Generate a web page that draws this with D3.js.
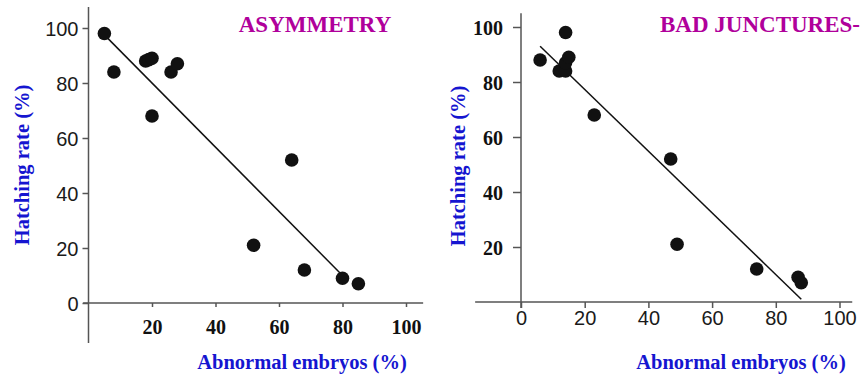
<!DOCTYPE html>
<meta charset="utf-8">
<style>
  body { margin: 0; background: #fff; }
  .axis-line { stroke: #555; stroke-width: 1.5px; }
  .tick line { stroke: #555; stroke-width: 1.5px; }
  .fit { stroke: #111; stroke-width: 1.5px; fill: none; }
  .dot { fill: #111; }
  .sans text { font-family: "Liberation Sans", Arial, sans-serif; font-size: 20px; fill: #1a1a1a; }
  .serif text { font-family: "Liberation Serif", "Times New Roman", serif; font-weight: bold; font-size: 20px; fill: #111; }
  .label { font-family: "Liberation Serif", "Times New Roman", serif; font-weight: bold; font-size: 20.5px; fill: #1515d0; }
  .title { font-family: "Liberation Serif", "Times New Roman", serif; font-weight: bold; font-size: 23px; fill: #b0009b; }
</style>
<body></body>
<script src="https://d3js.org/d3.v7.min.js"></script>
<script>
// asymmetry panel
var asymX = [5, 8, 18, 19, 20, 20, 26, 28, 52, 64, 68, 80, 85];
var asymY = [98, 84, 88, 88.5, 89, 68, 84, 87, 21, 52, 12, 9, 7];
var asymFitX = [5, 80];
var asymFitY = [97.5, 10];

// bad junctures panel
var badX = [6, 12, 14, 14, 14, 15, 23, 47, 49, 74, 87, 88];
var badY = [88, 84, 98, 84, 87, 89, 68, 52, 21, 12, 9, 7];
var badFitX = [6, 88];
var badFitY = [93, 1];

var ticks0 = [0, 20, 40, 60, 80, 100];
var ticks20 = [20, 40, 60, 80, 100];

var svg = d3.select("body").append("svg")
    .attr("width", 860)
    .attr("height", 374);

function panel(o) {
  var x = d3.scaleLinear().domain([0, 100]).range(o.xr);
  var y = d3.scaleLinear().domain([0, 100]).range(o.yr);
  var g = svg.append("g");

  // axis lines run a bit past the tick range
  g.append("line").attr("class", "axis-line")
    .attr("x1", x(o.xExt[0])).attr("x2", x(o.xExt[1]))
    .attr("y1", y(0)).attr("y2", y(0));
  g.append("line").attr("class", "axis-line")
    .attr("x1", x(0)).attr("x2", x(0))
    .attr("y1", y(o.yExt[0])).attr("y2", y(o.yExt[1]));

  var gx = g.append("g")
    .attr("class", o.xFont)
    .attr("transform", "translate(0," + y(0) + ")")
    .call(d3.axisBottom(x).tickValues(o.xTicks).tickSize(o.xTick).tickSizeOuter(0));
  gx.select(".domain").remove();
  gx.selectAll("text").attr("y", o.xLabelY).attr("dy", null).attr("font-size", null).attr("font-family", null).attr("fill", null);

  var gy = g.append("g")
    .attr("class", o.yFont)
    .attr("transform", "translate(" + x(0) + ",0)")
    .call(d3.axisLeft(y).tickValues(o.yTicks).tickSize(o.yTick).tickSizeOuter(0));
  gy.select(".domain").remove();
  gy.selectAll("text").attr("x", -o.yLabelX).attr("dy", "0.35em").attr("font-size", null).attr("font-family", null).attr("fill", null);

  var pts = o.xs.map(function(v, i) { return [v, o.ys[i]]; });
  var fit = o.fx.map(function(v, i) { return [v, o.fy[i]]; });

  g.append("path").attr("class", "fit")
    .attr("d", d3.line().x(function(d) { return x(d[0]); }).y(function(d) { return y(d[1]); })(fit));

  g.selectAll(".dot").data(pts).enter().append("circle")
    .attr("class", "dot")
    .attr("cx", function(d) { return x(d[0]); })
    .attr("cy", function(d) { return y(d[1]); })
    .attr("r", 6.8);

  g.append("text").attr("class", "label")
    .attr("text-anchor", "middle")
    .attr("x", o.xLab[0]).attr("y", o.xLab[1])
    .text("Abnormal embryos (%)");

  g.append("text").attr("class", "label")
    .attr("text-anchor", "middle")
    .attr("transform", "translate(" + o.yLab[0] + "," + o.yLab[1] + ") rotate(-90)")
    .text("Hatching rate (%)");

  g.append("text").attr("class", "title")
    .attr("text-anchor", o.titleAnchor)
    .attr("x", o.titlePos[0]).attr("y", o.titlePos[1])
    .text(o.title);
}

panel({
  xs: asymX, ys: asymY, fx: asymFitX, fy: asymFitY,
  xr: [88.5, 406], yr: [303, 28],
  xExt: [-1.7, 105.4], yExt: [-14.5, 107.6],
  xTicks: ticks20, yTicks: ticks0,
  xTick: 4, yTick: 6,
  xFont: "serif", yFont: "sans",
  xLabelY: 31, yLabelX: 10,
  xLab: [302, 369], yLab: [29, 165],
  title: "ASYMMETRY", titleAnchor: "middle", titlePos: [315, 32]
});

panel({
  xs: badX, ys: badY, fx: badFitX, fy: badFitY,
  xr: [521, 839.5], yr: [302, 27],
  xExt: [-14.4, 104], yExt: [-2.2, 105],
  xTicks: ticks0, yTicks: ticks20,
  xFont: "sans", yFont: "serif",
  xTick: 6, yTick: 8,
  xLabelY: 23, yLabelX: 18,
  xLab: [741, 369], yLab: [465, 166],
  title: "BAD JUNCTURES-", titleAnchor: "start", titlePos: [660, 32]
});
</script>
